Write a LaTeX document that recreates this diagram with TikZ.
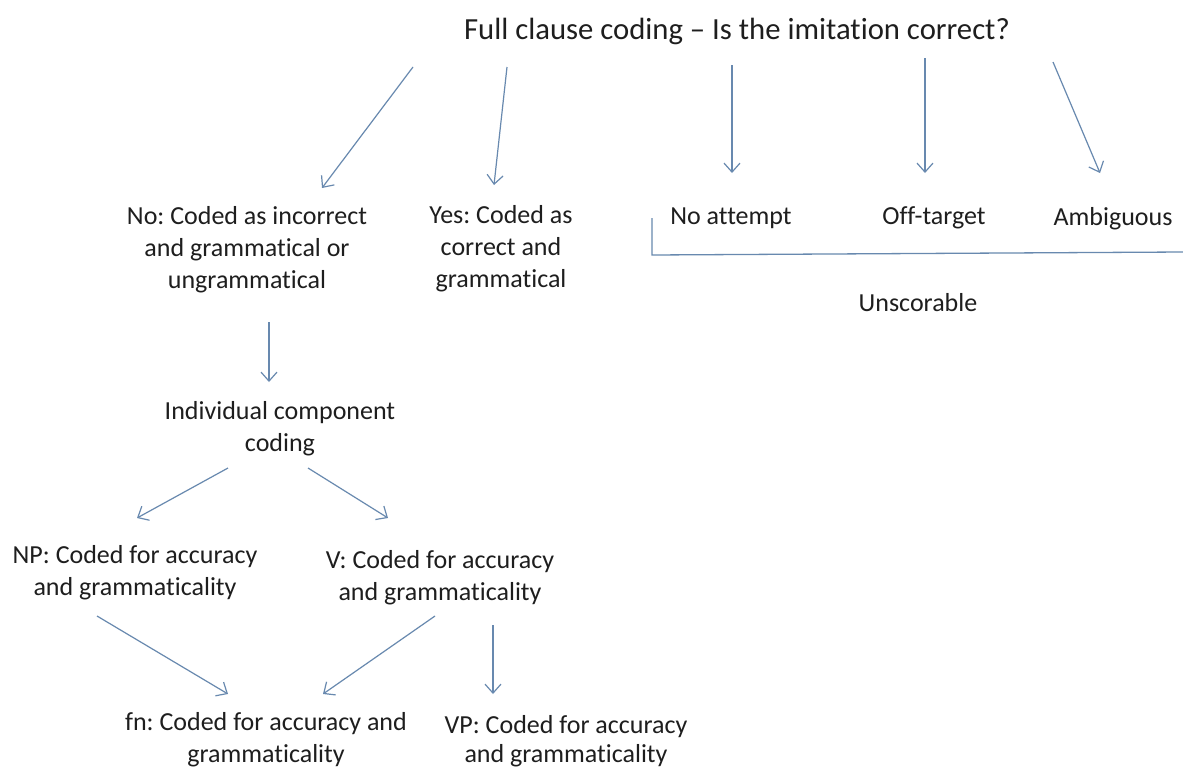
\documentclass[tikz,border=0pt]{standalone}
\usepackage{fontspec}
\setmainfont{Carlito}[Ligatures={NoCommon}]
\frenchspacing
\usetikzlibrary{arrows.meta}
\definecolor{linecol}{RGB}{104,137,175}
\definecolor{txtcol}{RGB}{30,30,30}
\tikzset{
  lbl/.style={inner sep=0pt, align=center, text=txtcol, font=\fontsize{26}{32}\selectfont},
  lbltight/.style={inner sep=0pt, align=center, text=txtcol, font=\fontsize{26}{29}\selectfont},
  ttl/.style={inner sep=0pt, align=center, text=txtcol, font=\fontsize{30.7}{36}\selectfont},
  conn/.style={draw=linecol, line width=1.2pt, -{Straight Barb[length=9pt,width=16pt,line width=1.2pt]}},
  brk/.style={draw=linecol, line width=1.3pt}
}
\begin{document}
\begin{tikzpicture}[x=1pt,y=-1pt]
\useasboundingbox[fill=white] (0,0) rectangle (1183,771);
% nodes
\node[ttl] (title) at (737,31) {Full clause coding -- Is the imitation correct?};
\node[lbl] (no) at (247,250) {No: Coded as incorrect\\and grammatical or\\ungrammatical};
\node[lbl] (yes) at (501,249) {Yes: Coded as\\correct and\\grammatical};
\node[lbl] (noatt) at (731,218) {No attempt};
\node[lbl] (off) at (934,218) {Off-target};
\node[lbl] (amb) at (1113,219) {Ambiguous};
\node[lbl] (unsc) at (918,303) {Unscorable};
\node[lbl] (ind) at (280,429) {Individual component\\coding};
\node[lbl] (np) at (135,573) {NP: Coded for accuracy\\and grammaticality};
\node[lbl] (v) at (440,578) {V: Coded for accuracy\\and grammaticality};
\node[lbl] (fn) at (266,740) {fn: Coded for accuracy and\\grammaticality};
\node[lbltight] (vp) at (566,741) {VP: Coded for accuracy\\and grammaticality};
% connector end points
\coordinate (aS) at (413,67);  \coordinate (aE) at (322,188);
\coordinate (bS) at (507,67);  \coordinate (bE) at (494,185);
\coordinate (cS) at (732,65);  \coordinate (cE) at (732,173);
\coordinate (dS) at (925,58);  \coordinate (dE) at (925,173);
\coordinate (eS) at (1053,62); \coordinate (eE) at (1100,173);
\coordinate (fS) at (269,322); \coordinate (fE) at (269,382);
\coordinate (gS) at (228,468); \coordinate (gE) at (137,518);
\coordinate (hS) at (308,468); \coordinate (hE) at (388,518);
\coordinate (iS) at (97,616);  \coordinate (iE) at (228,694);
\coordinate (jS) at (435,616); \coordinate (jE) at (323,694);
\coordinate (kS) at (493,625); \coordinate (kE) at (493,694);
\coordinate (bk1) at (652,218); \coordinate (bk2) at (652,255); \coordinate (bk3) at (1183,252);
% connectors
\draw[conn] (aS) -- (aE);
\draw[conn] (bS) -- (bE);
\draw[conn] (cS) -- (cE);
\draw[conn] (dS) -- (dE);
\draw[conn] (eS) -- (eE);
\draw[conn] (fS) -- (fE);
\draw[conn] (gS) -- (gE);
\draw[conn] (hS) -- (hE);
\draw[conn] (iS) -- (iE);
\draw[conn] (jS) -- (jE);
\draw[conn] (kS) -- (kE);
\draw[brk] (bk1) -- (bk2) -- (bk3);
\end{tikzpicture}
\end{document}
